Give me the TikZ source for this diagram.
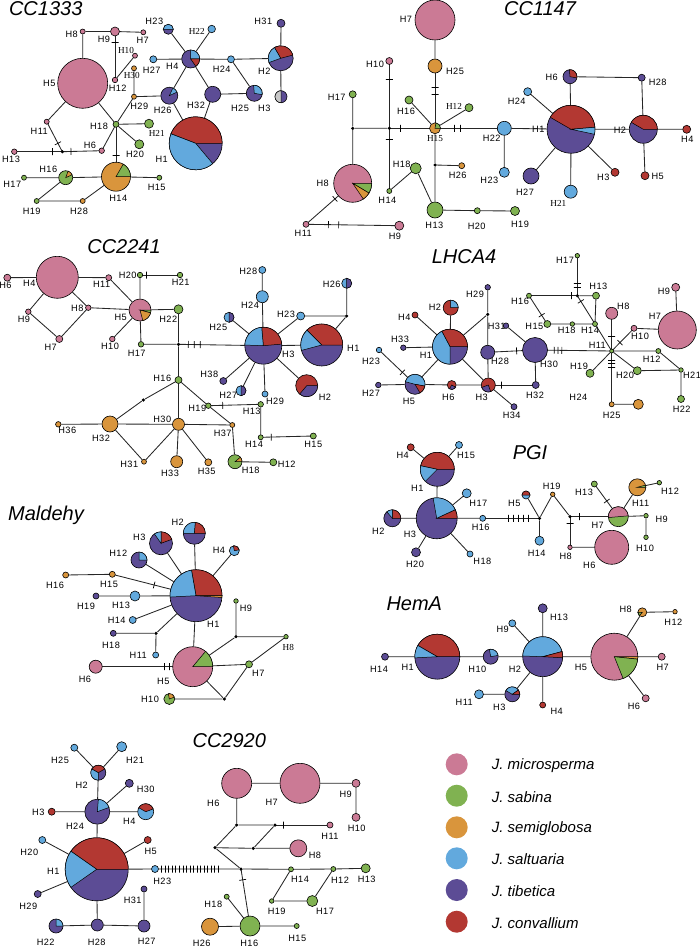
\documentclass[tikz,border=0pt]{standalone}
\usepackage{fontspec}
\setmainfont{Liberation Sans}
\newfontfamily\serifh{Liberation Serif}
\newfontfamily\spaced[LetterSpace=5]{Liberation Sans}
\usepackage{tikz}

\definecolor{mic}{HTML}{CB7A95}
\definecolor{sab}{HTML}{80B251}
\definecolor{sem}{HTML}{D9953C}
\definecolor{sal}{HTML}{62A9DD}
\definecolor{tib}{HTML}{5C4C95}
\definecolor{cvl}{HTML}{B33832}
\definecolor{gry}{HTML}{C8C8C8}

\pgfdeclarelayer{bg}
\pgfsetlayers{bg,main}

\tikzset{
  hap/.style={circle, draw=black, line width=.6pt, inner sep=0pt},
  med/.style={circle, fill=black, inner sep=0pt, minimum size=3.5pt},
  mut/.style={sloped, draw=black, line width=.7pt, inner sep=0pt, minimum width=0pt, minimum height=7pt},
  link/.style={line width=.85pt, draw=black!85},
  lbl/.style={inner sep=0pt, font=\spaced\fontsize{9.2}{11}\selectfont},
  slbl/.style={inner sep=0pt, font=\serifh\fontsize{9.2}{11}\selectfont},
  ttl/.style={inner sep=0pt, font=\fontsize{20}{24}\selectfont\itshape},
  key/.style={circle, inner sep=0pt, minimum size=22pt},
  leg/.style={inner sep=0pt, anchor=west, font=\fontsize{15}{18}\selectfont\itshape},
}

% haplotype circle: name, x, y, diameter, colour
\newcommand{\hap}[5]{\node[hap, minimum size=#4pt, fill=#5] (#1) at (#2,#3) {};}
% pie sector: node, radius, from, to, colour
\newcommand{\pie}[5]{\filldraw[fill=#5, draw=black, line width=.5pt] (#1.center) -- ++(#3:#2pt) arc[start angle=#3, end angle=#4, radius=#2pt] -- cycle;}

\begin{document}
\begin{tikzpicture}[x=1pt,y=-1pt]
\useasboundingbox (0,0) rectangle (700,947);

% titles
\node[ttl] (t1333) at (45.7,8.5) {CC1333};
\node[ttl] (t1147) at (540,8.5) {CC1147};
\node[ttl] (t2241) at (124,247) {CC2241};
\node[ttl] (tlhca) at (464,257) {LHCA4};
\node[ttl] (tpgi) at (530,452.7) {PGI};
\node[ttl] (tmal) at (46,515) {Maldehy};
\node[ttl] (thema) at (414.3,603.3) {HemA};
\node[ttl] (t2920) at (229.3,740.7) {CC2920};

% ---------- CC1333
\hap{a1}{195.7}{143.3}{53}{tib}
\hap{a2}{280.7}{58.3}{25}{tib}
\hap{a3}{281}{96.7}{12}{tib}
\hap{a4}{190.7}{59}{18}{tib}
\hap{a5}{82.7}{83.3}{50}{mic}
\hap{a6}{101.7}{150.7}{5.5}{mic}
\hap{a7}{143.3}{32.3}{5}{mic}
\hap{a8}{82.7}{31.5}{5}{mic}
\hap{a9}{115}{31.5}{9}{mic}
\hap{a10}{135}{55.7}{5}{mic}
\hap{a11}{46.7}{121.7}{5}{mic}
\hap{a12}{115}{80}{5.5}{mic}
\hap{a13}{14.3}{151.7}{5.5}{mic}
\hap{a14}{116}{176.7}{29}{sem}
\hap{a15}{159.3}{177.7}{5}{sab}
\hap{a16}{65.7}{177.7}{14}{sab}
\hap{a17}{24}{177.7}{5}{sab}
\hap{a18}{116}{124.3}{6}{sab}
\hap{a19}{36.7}{201}{5}{sab}
\hap{a20}{139.3}{144.3}{9}{sab}
\hap{a21}{149}{123.7}{9}{sab}
\hap{a22}{211.7}{29}{7.5}{sal}
\hap{a23}{168.3}{29.3}{10}{tib}
\hap{a24}{231}{59.3}{7}{sal}
\hap{a25}{254.3}{93.3}{16}{tib}
\hap{a26}{169.3}{95.7}{17}{tib}
\hap{a27}{153.3}{59.3}{7}{sal}
\hap{a28}{82.7}{201}{5}{sem}
\hap{a29}{134}{96.7}{5}{sem}
\hap{a30}{134}{68.3}{5}{sem}
\hap{a31}{281}{23.3}{8}{tib}
\hap{a32}{212.7}{94.3}{16}{tib}
\node[med] (am1) at (62.3,151.7) {};
\pie{a1}{26.5}{0}{159}{cvl}
\pie{a1}{26.5}{159}{310}{sal}
\pie{a2}{12.5}{15}{120}{cvl}
\pie{a2}{12.5}{120}{200}{sal}
\pie{a3}{6}{90}{270}{gry}
\pie{a4}{9}{0}{90}{sal}
\pie{a4}{9}{-55}{0}{cvl}
\pie{a14}{14.5}{0}{60}{sab}
\pie{a16}{7}{25}{70}{sem}
\pie{a23}{5}{0}{180}{sal}
\pie{a25}{8}{-10}{95}{sal}
\pie{a26}{8.5}{25}{65}{sal}
\foreach \t/\x/\y in {8/71.7/34.3, 9/104/39, 7/142.7/40, 12/117.7/88.3, 5/49.3/83.3, 29/139.3/106,
  26/162.7/110, 32/196/105, 25/240/108.3, 3/264.3/108.3, 2/264.3/71.7, 31/263.3/21, 23/154.3/21.7,
  27/151.7/70.7, 4/172.3/66, 24/221.7/69.3, 18/99/126, 11/39.3/131, 6/90/145, 20/135/154, 1/161.7/159.3,
  13/11/159.3, 16/48.3/169.3, 17/12.3/184, 14/118.3/198.3, 15/156.7/187.3, 19/31.7/211.7, 28/79/211.7}
  \node[lbl] (la\t) at (\x,\y) {H\t};
\foreach \t/\x/\y in {10/126/50.7, 30/131.7/75.5, 22/196.7/31.7, 21/156.7/133.3}
  \node[slbl] (la\t) at (\x,\y) {H\t};

% ---------- CC1147
\hap{b1}{571}{129.3}{48}{tib}
\hap{b2}{643.3}{129.3}{28}{tib}
\hap{b3}{615}{172.3}{8}{cvl}
\hap{b4}{686.7}{129.3}{8}{cvl}
\hap{b5}{645}{175.7}{8}{cvl}
\hap{b6}{570}{76.7}{14}{tib}
\hap{b7}{435}{20}{40}{mic}
\hap{b8}{352.7}{183.3}{38}{mic}
\hap{b9}{399.3}{225.7}{9}{mic}
\hap{b10}{389.3}{61}{7}{mic}
\hap{b11}{306}{224.3}{6}{mic}
\hap{b12}{469}{107.7}{8}{sab}
\hap{b13}{435}{210}{16}{sab}
\hap{b14}{389.3}{191}{5}{sab}
\hap{b15}{435}{128.3}{11}{sem}
\hap{b16}{409}{100}{8}{sab}
\hap{b17}{352.7}{94.3}{7}{sab}
\hap{b18}{415.7}{168.3}{11}{sab}
\hap{b19}{515}{211}{9}{sab}
\hap{b20}{477.3}{210.7}{6}{sab}
\hap{b21}{570.7}{191.7}{13}{sal}
\hap{b22}{504.3}{128.3}{14}{sal}
\hap{b23}{504.3}{172.3}{10}{sal}
\hap{b24}{527.7}{91.7}{8}{sal}
\hap{b25}{435}{66}{14}{sem}
\hap{b26}{461.7}{165.7}{6}{sem}
\hap{b27}{531}{176}{16}{tib}
\hap{b28}{641.7}{77.7}{7}{tib}
\node[med] (bm1) at (352.7,128.3) {};
\node[med] (bm2) at (389.3,128.3) {};
\node[med] (bm3) at (435,165) {};
\pie{b1}{24}{5}{150}{cvl}
\pie{b1}{24}{-12}{5}{sal}
\pie{b2}{14}{0}{150}{cvl}
\pie{b6}{7}{-10}{95}{cvl}
\pie{b8}{19}{-31}{0}{sab}
\pie{b8}{19}{-56}{-31}{sem}
\pie{b15}{5.5}{0}{80}{sab}
\foreach \t/\x/\y in {7/406/19.3, 25/455/71, 10/375/64.3, 17/336.7/97.7, 16/406/111, 22/491.7/138.3,
  1/538.3/129.3, 24/516.7/101.7, 6/551.7/77.7, 28/657.7/82.7, 2/620/130, 4/687.3/139.3, 3/603.3/177.7,
  5/657.7/176.7, 27/525/192.7, 23/489.3/180.7, 26/457.7/175, 18/401.7/164.3, 14/387.3/200, 8/322.7/183.3,
  13/434.3/225, 20/476.7/226.7, 19/520/224, 11/303.3/233.3, 9/395/236}
  \node[lbl] (lb\t) at (\x,\y) {H\t};
\foreach \t/\x/\y in {12/454/106, 15/435/138.3, 21/558.3/203.3}
  \node[slbl] (lb\t) at (\x,\y) {H\t};

% ---------- CC2241
\hap{c1}{321.7}{345}{42}{tib}
\hap{c2}{306.7}{385.7}{22}{cvl}
\hap{c3}{263.3}{345.7}{37}{tib}
\hap{c4}{57.3}{277.3}{42}{mic}
\hap{c5}{140}{310}{22}{mic}
\hap{c6}{7.3}{277.7}{7}{mic}
\hap{c7}{59.3}{339}{7}{mic}
\hap{c8}{88.3}{307.7}{5.5}{mic}
\hap{c9}{28.3}{311.7}{5.5}{mic}
\hap{c10}{112.3}{339}{5.5}{mic}
\hap{c11}{108.7}{277.7}{6}{mic}
\hap{c12}{273.3}{462.3}{7}{sab}
\hap{c13}{260.7}{404.3}{5.5}{sab}
\hap{c14}{260.7}{437.3}{5}{sab}
\hap{c15}{313.3}{436}{6}{sab}
\hap{c16}{178.5}{380}{7}{sab}
\hap{c17}{141}{344.3}{5.5}{sab}
\hap{c18}{235}{461.7}{14}{sab}
\hap{c19}{208.3}{405.7}{5.5}{sab}
\hap{c20}{140}{275}{5.5}{sab}
\hap{c21}{180}{275}{5.5}{sab}
\hap{c22}{178.5}{309.3}{9}{sab}
\hap{c23}{300.7}{316}{8}{sal}
\hap{c24}{262.3}{296.7}{12}{sal}
\hap{c25}{229}{317.3}{10}{sal}
\hap{c26}{346.7}{283.3}{10}{sal}
\hap{c27}{241}{390.7}{10}{sal}
\hap{c28}{262.3}{270}{7}{sal}
\hap{c29}{265}{394}{6}{sal}
\hap{c30}{178.5}{424.3}{12}{sem}
\hap{c31}{144}{461.7}{5}{sem}
\hap{c32}{110}{424}{16}{sem}
\hap{c33}{176.7}{461.7}{12}{sem}
\hap{c35}{208.3}{462.3}{7}{sem}
\hap{c36}{58.3}{424.3}{5.5}{sem}
\hap{c37}{232.3}{425}{5}{sem}
\hap{c38}{223.3}{381}{7}{tib}
\node[med] (cm1) at (178.5,344.3) {};
\node[med] (cm2) at (346.7,316) {};
\node[med] (cm3) at (143.3,400) {};
\pie{c1}{21}{0}{135}{cvl}
\pie{c1}{21}{135}{195}{sal}
\pie{c2}{11}{-130}{0}{tib}
\pie{c3}{18.5}{5}{95}{cvl}
\pie{c3}{18.5}{95}{178}{sal}
\pie{c5}{11}{-15}{0}{sab}
\pie{c5}{11}{-75}{-15}{sem}
\pie{c18}{7}{0}{40}{sem}
\pie{c25}{5}{-90}{90}{tib}
\pie{c26}{5}{-90}{90}{tib}
\pie{c27}{5}{-90}{90}{tib}
\foreach \t/\x/\y in {6/5.5/285.7, 4/29.3/283.3, 11/101.7/284.3, 9/24/319, 8/77.3/308.3, 7/50.7/347.7,
  20/127.7/275, 21/180.7/282.7, 5/120.7/317.3, 10/110/346.7, 17/136.7/353.3, 22/168.3/319, 28/248.3/271,
  24/250/305.7, 26/331.7/284.3, 23/286/314.3, 25/218.3/327.3, 3/288.3/354.3, 1/353.3/348.3,
  38/209.3/374.3, 27/228.3/395.7, 29/275/401.7, 2/325/397.7, 16/162.3/378.3, 19/197.3/408.3,
  13/251.7/411.7, 30/162.3/419, 37/222.7/433.7, 14/254/444, 15/313.3/444, 36/67.3/430, 32/101/438.3,
  31/129.3/464.3, 33/170/473.3, 35/206.7/471.7, 18/250.7/470, 12/286.7/464.3}
  \node[lbl] (lc\t) at (\x,\y) {H\t};

% ---------- LHCA4
\hap{d1}{450}{346.7}{35}{tib}
\hap{d2}{450.7}{307.7}{15}{cvl}
\hap{d3}{488.3}{385}{14}{cvl}
\hap{d4}{415}{315}{6}{cvl}
\hap{d5}{415}{384.3}{20}{tib}
\hap{d6}{451.7}{385}{9}{cvl}
\hap{d7}{677.3}{330}{38}{mic}
\hap{d8}{611.7}{313.3}{12}{mic}
\hap{d9}{675.7}{287.3}{8}{mic}
\hap{d10}{634}{328.3}{6}{mic}
\hap{d11}{611.7}{351}{4}{sab}
\hap{d12}{658.3}{351}{5}{sab}
\hap{d13}{596}{295.7}{7}{sab}
\hap{d14}{595}{324}{5}{sab}
\hap{d15}{547.3}{324}{7}{sab}
\hap{d16}{529}{295.7}{5}{sab}
\hap{d17}{577.3}{255.7}{4.5}{sab}
\hap{d18}{572.3}{324}{4.5}{sab}
\hap{d19}{590}{373.3}{8}{sab}
\hap{d20}{637.3}{370.7}{8}{sab}
\hap{d21}{681}{370}{4.5}{sab}
\hap{d22}{681}{399}{7}{sab}
\hap{d23}{379}{350}{5.5}{sal}
\hap{d24}{638.3}{404.3}{10}{sem}
\hap{d25}{611.7}{404.3}{5}{sem}
\hap{d27}{378.3}{385}{5.5}{tib}
\hap{d28}{487.7}{352.3}{14}{tib}
\hap{d29}{487.7}{287.3}{5.5}{tib}
\hap{d30}{535}{350}{25}{tib}
\hap{d31}{506}{325.7}{5.5}{tib}
\hap{d32}{535.7}{385}{7}{tib}
\hap{d33}{403.3}{347.7}{5.5}{tib}
\hap{d34}{514}{406.7}{6}{tib}
\node[med] (dm1) at (577.3,295.7) {};
\node[med] (dm2) at (487.7,314.3) {};
\pie{d1}{17.5}{0}{118}{cvl}
\pie{d1}{17.5}{118}{270}{sal}
\pie{d2}{7.5}{0}{90}{sal}
\pie{d3}{7}{200}{290}{tib}
\pie{d5}{10}{-10}{165}{sal}
\pie{d5}{10}{-60}{-10}{cvl}
\pie{d6}{4.5}{240}{330}{tib}
\foreach \t/\x/\y in {29/475/294.3, 2/435/307.7, 4/404.3/317.3, 33/400/339, 1/426/355.7, 23/371/361,
  27/371/393.3, 5/409/401.7, 6/448.3/397.3, 3/481.7/397.3, 34/511.7/415.7, 28/500/361.7, 32/535/395,
  30/549/364.3, 31/496.7/326, 16/520/301.7, 15/534.3/326.7, 18/566.7/330.7, 14/590/330.7, 13/598.3/286.7,
  8/623.3/306.7, 11/597.3/345, 10/640/336.7, 7/655/316, 9/664/291, 12/651.7/359, 21/692/375.7,
  19/579/366.7, 20/625/375.7, 22/681.7/409, 24/578.3/397.3, 25/611.7/415, 17/565/260.7}
  \node[lbl] (ld\t) at (\x,\y) {H\t};

% ---------- PGI
\hap{e1}{437.3}{469.3}{34}{tib}
\hap{e2}{392.3}{518.3}{17}{tib}
\hap{e3}{436.7}{518.3}{41}{tib}
\hap{e4}{410.7}{447.3}{7}{cvl}
\hap{e5}{526}{495}{8}{sal}
\hap{e6}{611.7}{547.3}{34}{mic}
\hap{e7}{618.3}{516.7}{20}{sab}
\hap{e8}{570}{547.3}{4.5}{mic}
\hap{e9}{646}{515.7}{4.5}{sab}
\hap{e10}{646}{537.3}{4.5}{sab}
\hap{e11}{637.3}{487.3}{17}{sem}
\hap{e12}{659.3}{482.7}{4.5}{sab}
\hap{e13}{594.3}{484}{6}{sab}
\hap{e14}{539.5}{540.7}{9}{sal}
\hap{e15}{459}{445}{7}{sal}
\hap{e16}{482.7}{518.3}{6}{sal}
\hap{e17}{466.7}{493.3}{9}{sal}
\hap{e18}{470}{554}{6}{sal}
\hap{e19}{552.7}{494.3}{4.5}{sem}
\hap{e20}{416}{552.3}{9}{tib}
\node[med] (em1) at (539.5,518.3) {};
\node[med] (em2) at (570,516.7) {};
\pie{e1}{17}{0}{168}{cvl}
\pie{e1}{17}{168}{225}{sal}
\pie{e2}{8.5}{0}{90}{cvl}
\pie{e2}{8.5}{90}{130}{sal}
\pie{e3}{20.5}{0}{25}{cvl}
\pie{e3}{20.5}{25}{100}{sal}
\pie{e5}{4}{0}{180}{cvl}
\pie{e7}{10}{5}{185}{mic}
\pie{e11}{8.5}{0}{15}{sab}
\foreach \t/\x/\y in {4/402.7/455.7, 15/466/455, 1/417.3/488.3, 17/478.3/503.3, 2/378.3/531.7, 3/410/534,
  16/480.7/527.3, 20/415/564, 18/482.3/561.7, 5/514.3/503.3, 19/551.7/486, 14/536.7/553.3, 13/584/492.7,
  11/640.7/503.3, 12/670/491.7, 9/661.7/519.3, 10/645/548.3, 7/597.7/525.7, 8/565.7/556.7, 6/589.3/565}
  \node[lbl] (le\t) at (\x,\y) {H\t};

% ---------- Maldehy
\hap{f1}{196}{595.7}{52}{tib}
\hap{f2}{194.3}{533.3}{22}{tib}
\hap{f3}{161}{543.3}{23}{tib}
\hap{f4}{234.3}{550.7}{10}{sal}
\hap{f5}{192.7}{666.7}{40}{mic}
\hap{f6}{95.7}{666.7}{13}{mic}
\hap{f7}{249}{664.3}{7}{sab}
\hap{f8}{286}{636.7}{4.5}{sab}
\hap{f9}{236}{601}{4.5}{sab}
\hap{f10}{169.3}{699}{11}{sab}
\hap{f11}{155.7}{655}{6}{sal}
\hap{f12}{139}{560}{16}{tib}
\hap{f13}{135}{596}{10}{sal}
\hap{f14}{132.7}{620}{7}{sal}
\hap{f15}{112.3}{574.3}{6}{sem}
\hap{f16}{65.7}{575}{6}{sem}
\hap{f18}{113.3}{633.3}{6}{tib}
\hap{f19}{96}{596}{6}{tib}
\node[med] (fm1) at (156,633.3) {};
\node[med] (fm2) at (236,636.7) {};
\node[med] (fm3) at (224.3,699) {};
\pie{f1}{26}{0}{100}{cvl}
\pie{f1}{26}{100}{183}{sal}
\pie{f1}{26}{-4}{0}{sem}
\pie{f2}{11}{0}{85}{cvl}
\pie{f2}{11}{85}{180}{sal}
\pie{f3}{11.5}{20}{90}{cvl}
\pie{f3}{11.5}{90}{125}{sal}
\pie{f4}{5}{10}{100}{cvl}
\pie{f5}{20}{0}{50}{sab}
\pie{f10}{5.5}{20}{100}{sem}
\pie{f12}{8}{0}{90}{sal}
\foreach \t/\x/\y in {2/177.7/522.7, 3/139.3/537.7, 4/219/550, 12/118.3/553.3, 16/55/585, 15/109/584,
  19/86/606, 13/121/605, 14/116.7/620, 1/213.3/624, 9/246/608.3, 18/111/645, 11/138.3/655.7, 6/85/679,
  5/163.3/681.7, 7/258.3/673.3, 10/150/699}
  \node[lbl] (lf\t) at (\x,\y) {H\t};
\node[slbl] (lf8) at (288.3,647.3) {H8};

% ---------- HemA
\hap{g1}{437.3}{656.7}{45}{tib}
\hap{g2}{542.7}{656.7}{40}{tib}
\hap{g3}{512.3}{694.3}{15}{tib}
\hap{g4}{542.7}{705}{6}{cvl}
\hap{g5}{614.3}{656.7}{47}{mic}
\hap{g6}{645.7}{698.3}{7}{mic}
\hap{g7}{661.7}{656.7}{7}{mic}
\hap{g8}{642.3}{612.3}{9}{sem}
\hap{g9}{512.3}{623.3}{7}{sal}
\hap{g10}{490.7}{656.7}{15}{tib}
\hap{g11}{479}{694.3}{9}{sal}
\hap{g12}{675}{611.7}{4.5}{sem}
\hap{g13}{542.7}{608.3}{9}{tib}
\hap{g14}{385}{656.7}{7}{tib}
\pie{g1}{22.5}{0}{150}{cvl}
\pie{g1}{22.5}{150}{183}{sal}
\pie{g2}{20}{15}{178}{sal}
\pie{g2}{20}{-3}{15}{cvl}
\pie{g3}{7.5}{35}{150}{sal}
\pie{g3}{7.5}{0}{35}{cvl}
\pie{g5}{23.5}{-6}{0}{sem}
\pie{g5}{23.5}{-68}{-6}{sab}
\pie{g8}{4.5}{180}{230}{sab}
\pie{g10}{7.5}{10}{100}{sal}
\foreach \t/\x/\y in {14/379/669.3, 1/407.7/667.3, 10/477.3/669.3, 2/515/669.3, 9/502.7/629.3,
  13/559/617.3, 11/464.3/702.3, 3/499.3/707.7, 4/556.7/711, 5/581/667.3, 8/625.7/609.3, 12/673.3/622.3,
  7/662.7/667.3, 6/634/706.7}
  \node[lbl] (lg\t) at (\x,\y) {H\t};

% ---------- CC2920
\hap{h1}{96.7}{869.3}{63}{tib}
\hap{h2}{98.3}{772.7}{15}{tib}
\hap{h3}{51.7}{811.7}{7}{cvl}
\hap{h4}{145.7}{811.7}{16}{sal}
\hap{h5}{147.7}{840}{7}{cvl}
\hap{h6}{236.7}{783.3}{30}{mic}
\hap{h7}{300}{783.3}{40}{mic}
\hap{h8}{298.3}{848.3}{17}{mic}
\hap{h9}{356}{783.3}{8}{mic}
\hap{h10}{356}{817.3}{8}{mic}
\hap{h11}{330}{825}{6}{mic}
\hap{h12}{333.3}{869}{5}{sab}
\hap{h13}{365.7}{868.3}{9}{sab}
\hap{h14}{291}{869.3}{5}{sab}
\hap{h15}{296.7}{926}{5}{sab}
\hap{h16}{250}{926}{20}{sab}
\hap{h17}{312.3}{901}{11}{sab}
\hap{h18}{226.7}{896.7}{5}{sab}
\hap{h19}{271.7}{901}{4.5}{sab}
\hap{h20}{42.3}{840}{7}{sal}
\hap{h21}{121.7}{746.7}{10}{sal}
\hap{h22}{56}{926}{14}{tib}
\hap{h23}{155}{869}{7}{sal}
\hap{h24}{97.3}{811.7}{25}{tib}
\hap{h25}{74.3}{747.7}{7}{sal}
\hap{h26}{210}{926.7}{17}{sem}
\hap{h27}{144}{926}{12}{tib}
\hap{h28}{97.3}{925}{12}{tib}
\hap{h29}{37.7}{894}{7}{tib}
\hap{h30}{129.3}{783.3}{8}{tib}
\hap{h31}{144}{889}{6}{tib}
\node[med] (hm1) at (241,869) {};
\node[med] (hm2) at (215,847.7) {};
\node[med] (hm3) at (236.7,825) {};
\node[med] (hm4) at (253.3,848.3) {};
\node[med] (hm5) at (275,825) {};
\pie{h1}{31.5}{0}{145}{cvl}
\pie{h1}{31.5}{145}{215}{sal}
\pie{h2}{7.5}{30}{150}{cvl}
\pie{h2}{7.5}{150}{270}{sal}
\pie{h4}{8}{20}{150}{cvl}
\pie{h22}{7}{0}{90}{sal}
\pie{h24}{12.5}{20}{85}{sal}
\foreach \t/\x/\y in {25/60/760, 21/135/760.7, 2/81.7/785.7, 30/145.7/789.3, 3/38.3/812.3, 24/75/826,
  4/129.3/821, 20/29.3/852.3, 5/150.7/851.7, 1/53.3/871.7, 23/162.3/881, 29/28.3/906.7, 31/132.7/900,
  22/45.7/942.3, 28/96.7/942.7, 27/146.7/941, 6/213.3/803.3, 7/271.7/802.7, 9/345.7/794.3,
  10/356.7/828.3, 11/330/836, 8/315/855.7, 14/300/879.3, 12/340/880, 13/366.7/879.3, 19/276.7/911.7,
  17/325/911.7, 18/213.3/904.3, 26/201.7/943.3, 16/249.3/943.3, 15/297.3/938.3}
  \node[lbl] (lh\t) at (\x,\y) {H\t};

% legend
\foreach \c/\n/\y in {mic/microsperma/764.3, sab/sabina/795.7, sem/semiglobosa/827.3,
  sal/saltuaria/858.3, tib/tibetica/890, cvl/convallium/921.7} {
  \node[key, fill=\c] (k\c) at (456.7,\y) {};
  \node[leg] (n\c) at (491.7,\y+1) {J. \n};
}

% connectors
\begin{pgfonlayer}{bg}
\draw[link] (a8) -- (a9) (a9) -- (a7) (a12) -- (a10) (a8) -- (a5) (a5) -- (a11)
  (a6) -- (a18) (a5) -- (a18) (a18) -- (a29) (a29) -- (a30) (a29) -- (a26) (a18) -- (a21)
  (a18) -- (a20) (a14) -- (a15) (a16) -- (a14) (a17) -- (a16) (a16) -- (a19) (a19) -- (a28)
  (a28) -- (a14) (a26) -- (a4) (a26) -- (a1) (a4) -- (a23) (a4) -- (a22) (a27) -- (a4)
  (a4) -- (a24) (a24) -- (a2) (a4) -- (a32) (a32) -- (a25) (a24) -- (a25) (a32) -- (a1)
  (a2) -- (a31) (a2) -- (a3);
\draw[link] (a9.center) -- node[mut, pos=.23] {} (a12.center);
\draw[link] (a11.center) -- node[mut, pos=.72] {} (am1.center);
\draw[link] (a13.center) -- node[mut, pos=.79] {} (am1.center);
\draw[link] (am1.center) -- node[mut, pos=.22] {} (a6.center);
\draw[link] (a18.center) -- node[mut, pos=.6] {} (a14.center);

\draw[link] (b7) -- (b25) (b16) -- (b15) (b15) -- (b12) (bm1) -- (bm2) (b22) -- (b1)
  (b17) -- (bm1) (bm1) -- (b8) (b14) -- (b18) (b18) -- (b13) (b15) -- (bm3) (bm3) -- (b13)
  (bm3) -- (b26) (b13) -- (b20) (b20) -- (b19) (b22) -- (b23) (b1) -- (b24) (b1) -- (b6)
  (b6) -- (b28) (b28) -- (b2) (b1) -- (b2) (b2) -- (b4) (b2) -- (b5) (b1) -- (b3)
  (b1) -- (b27) (b1) -- (b21);
\draw[link] (b25.center) -- node[mut, pos=.34] {} node[mut, pos=.45] {} (b15.center);
\draw[link] (bm2.center) -- node[mut, pos=.25] {} (b15.center);
\draw[link] (b15.center) -- node[mut, pos=.275] {} node[mut, pos=.367] {} (b22.center);
\draw[link] (b10.center) -- node[mut, pos=.28] {} (bm2.center);
\draw[link] (bm2.center) -- node[mut, pos=.175] {} (b14.center);
\draw[link] (b8.center) -- node[mut, pos=.38] {} (b11.center);
\draw[link] (b11.center) -- node[mut, pos=.24] {} node[mut, pos=.35] {} (b9.center);

\draw[link] (c6) -- (c4) (c4) -- (c11) (c4) -- (c9) (c4) -- (c8) (c9) -- (c7) (c8) -- (c7)
  (c11) -- (c5) (c8) -- (c5) (c10) -- (c5) (c20) -- (c5) (c5) -- (c17) (c5) -- (c22)
  (c17) -- (cm1) (c22) -- (cm1) (cm1) -- (c16) (c24) -- (c3) (c28) -- (c24) (c25) -- (c3)
  (c3) -- (c23) (c23) -- (cm2) (cm2) -- (c26) (cm2) -- (c1) (c3) -- (c1) (c3) -- (c2)
  (c3) -- (c38) (c3) -- (c27) (c3) -- (c29) (c16) -- (c30) (c16) -- (cm3) (c16) -- (c19)
  (c19) -- (c37) (c13) -- (c14) (cm3) -- (c32) (c32) -- (c30) (c36) -- (c32) (c32) -- (c31)
  (c31) -- (c30) (c30) -- (c37) (c37) -- (c18) (c18) -- (c12) (c30) -- (c33) (c30) -- (c35);
\draw[link] (c20.center) -- node[mut, pos=.17] {} (c21.center);
\draw[link] (cm1.center) -- node[mut, pos=.116] {} node[mut, pos=.186] {} node[mut, pos=.257] {} (c3.center);
\draw[link] (c19.center) -- node[mut, pos=.275] {} (c13.center);
\draw[link] (c14.center) -- node[mut, pos=.2] {} (c15.center);

\draw[link] (dm1) -- (d13) (d13) -- (d14) (d14) -- (d11) (d15) -- (d18) (d18) -- (d14)
  (d10) -- (d7) (d9) -- (d7) (d11) -- (d12) (d12) -- (d21) (d11) -- (d20) (d20) -- (d21)
  (d21) -- (d22) (d11) -- (d19) (d25) -- (d24) (d31) -- (d30) (d29) -- (dm2) (dm2) -- (d28)
  (dm2) -- (d1) (d1) -- (d2) (d1) -- (d4) (d1) -- (d33) (d1) -- (d5) (d27) -- (d5)
  (d5) -- (d6) (d6) -- (d3) (d1) -- (d3) (d28) -- (d3) (d30) -- (d32) (d3) -- (d34);
\draw[link] (d17.center) -- node[mut, pos=.69] {} node[mut, pos=.79] {} (dm1.center);
\draw[link] (d16.center) -- node[mut, pos=.88] {} (dm1.center);
\draw[link] (dm1.center) -- node[mut, pos=.2] {} (d14.center);
\draw[link] (d16.center) -- node[mut, pos=.69] {} (d15.center);
\draw[link] (d8.center) -- node[mut, pos=.62] {} (d11.center);
\draw[link] (d11.center) -- node[mut, pos=.37] {} (d10.center);
\draw[link] (d11.center) -- node[mut, pos=.17] {} node[mut, pos=.24] {} node[mut, pos=.31] {} (d25.center);
\draw[link] (d30.center) -- node[mut, pos=.25] {} node[mut, pos=.3] {} node[mut, pos=.35] {} (d11.center);
\draw[link] (d28.center) -- node[mut, pos=.61] {} (d30.center);
\draw[link] (d23.center) -- node[mut, pos=.65] {} (d5.center);
\draw[link] (d3.center) -- node[mut, pos=.28] {} (d32.center);

\draw[link] (e4) -- (e1) (e15) -- (e1) (e1) -- (e3) (e2) -- (e3) (e3) -- (e17) (e3) -- (e20)
  (e3) -- (e18) (e3) -- (e16) (e5) -- (em1) (em1) -- (e14) (em1) -- (e19) (e19) -- (em2)
  (e8) -- (e6) (e7) -- (e11) (e11) -- (e12) (e7) -- (e9) (e9) -- (e10);
\draw[link] (e16.center) -- node[mut, pos=.45] {} node[mut, pos=.54] {} node[mut, pos=.63] {}
  node[mut, pos=.72] {} node[mut, pos=.81] {} (em1.center);
\draw[link] (em2.center) -- node[mut, pos=.19] {} (e7.center);
\draw[link] (em2.center) -- node[mut, pos=.22] {} (e8.center);
\draw[link] (e7.center) -- node[mut, pos=.48] {} (e13.center);

\draw[link] (f1) -- (f2) (f1) -- (f3) (f1) -- (f12) (f1) -- (f4) (f16) -- (f15) (f19) -- (f13)
  (f13) -- (f1) (f14) -- (f1) (f18) -- (fm1) (fm1) -- (f1) (fm1) -- (f11) (f1) -- (f5)
  (f5) -- (f7) (f5) -- (fm2) (fm2) -- (f9) (fm2) -- (f8) (f8) -- (f7) (f10) -- (fm3)
  (fm3) -- (f7) (fm3) -- (f5);
\draw[link] (f15.center) -- node[mut, pos=.5] {} (f1.center);
\draw[link] (f6.center) -- node[mut, pos=.707] {} node[mut, pos=.758] {} node[mut, pos=.81] {} (f5.center);

\draw[link] (g14) -- (g1) (g1) -- (g10) (g10) -- (g2) (g9) -- (g2) (g13) -- (g2) (g2) -- (g4)
  (g2) -- (g3) (g11) -- (g3) (g2) -- (g5) (g5) -- (g7) (g5) -- (g8) (g8) -- (g12) (g5) -- (g6);

\draw[link] (h1) -- (h20) (h1) -- (h5) (h1) -- (h29) (h1) -- (h24) (h3) -- (h24) (h24) -- (h4)
  (h24) -- (h30) (h24) -- (h2) (h2) -- (h25) (h2) -- (h21) (h1) -- (h28) (h22) -- (h28)
  (h28) -- (h27) (h27) -- (h31) (h1) -- (h23) (h23) -- (hm1) (hm1) -- (hm2) (hm2) -- (hm3)
  (hm2) -- (hm4) (hm4) -- (h8) (hm4) -- (hm5) (hm3) -- (hm5) (hm3) -- (h6) (h6) -- (h7)
  (h7) -- (h9) (h9) -- (h10) (hm1) -- (h14) (h14) -- (h12) (h12) -- (h13) (h14) -- (h19)
  (h19) -- (h17) (h17) -- (h12) (h16) -- (h26) (h16) -- (h15) (h16) -- (h18);
\foreach \i [evaluate=\i as \p using 0.078+\i*0.041] in {0,...,16}
  \path (h23.center) -- (hm1.center) node[mut, pos=\p] {};
\draw[link] (hm5.center) -- node[mut, pos=.15] {} (h11.center);
\draw[link] (hm1.center) -- node[mut, pos=.19] {} (h16.center);
\end{pgfonlayer}
\end{tikzpicture}
\end{document}
